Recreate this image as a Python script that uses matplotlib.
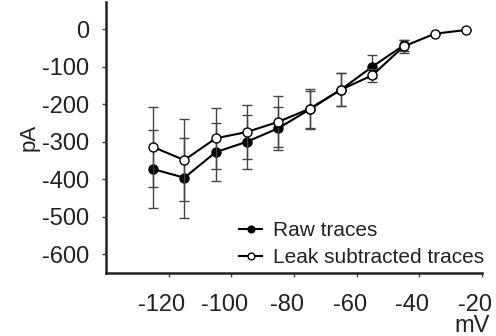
import numpy as np
import matplotlib.pyplot as plt
import matplotlib.transforms as mtransforms

plt.rcParams['font.family'] = ['Liberation Sans', 'DejaVu Sans']
plt.rcParams['axes.unicode_minus'] = False

# membrane potential steps (mV)
mv = [-125, -115, -105, -95, -85, -75, -65, -55, -45, -35, -25]

# raw traces (pA), mean and error
raw_mean = [-373, -396, -328, -300, -264, -214, -161, -100, -43]
raw_err = [103, 107, 77, 72, 57, 50, 45, 30, 15]

# leak subtracted traces (pA), mean and error
leak_mean = [-314, -349, -291, -274, -247, -212, -161, -123, -46, -12, -2]
leak_err = [107, 110, 82, 72, 68, 53, 45, 18, 18, 0, 0]

fig = plt.figure(figsize=(4.96, 3.36), dpi=100)
ax = fig.add_axes([0.2137, 0.1875, 0.758, 0.806])

ax.errorbar(mv[:len(raw_mean)], raw_mean, yerr=raw_err, color='black',
            ecolor='#444444', elinewidth=1, capsize=3.5, capthick=1,
            marker='o', markersize=6.5, markerfacecolor='black',
            markeredgecolor='black', linewidth=1.5, label='Raw traces', zorder=2)
ax.errorbar(mv, leak_mean, yerr=leak_err, color='black',
            ecolor='#444444', elinewidth=1, capsize=3.5, capthick=1,
            marker='o', markersize=6.5, markerfacecolor='white',
            markeredgecolor='black', markeredgewidth=1, linewidth=1.5,
            label='Leak subtracted traces', zorder=3)

ax.set_xlim(-140, -20)
ax.set_ylim(-650, 72)
ax.set_xticks([-120, -100, -80, -60, -40, -20])
ax.set_yticks([0, -100, -200, -300, -400, -500, -600])

for s in ['top', 'right']:
    ax.spines[s].set_visible(False)
for s in ['left', 'bottom']:
    ax.spines[s].set_linewidth(1.8)
    ax.spines[s].set_color('#222222')

ax.tick_params(axis='both', labelsize=17, width=1, length=3,
               color='#444444', labelcolor='#222222')
ax.tick_params(axis='y', pad=9)
ax.tick_params(axis='x', pad=12)

# x tick labels sit a little left of their ticks
shift = mtransforms.ScaledTranslation(-7 / 100, 0, fig.dpi_scale_trans)
for lab in ax.get_xticklabels():
    lab.set_transform(lab.get_transform() + shift)

ax.set_ylabel('pA', fontsize=16, color='#222222', labelpad=2)
fig.text(490 / 496, 4 / 336, 'mV', fontsize=17, color='#222222',
         ha='right', va='baseline')

handles, labels = ax.get_legend_handles_labels()
handles = [h[0] for h in handles]
ax.legend(handles, labels, loc='lower right', bbox_to_anchor=(1.005, 0.022),
          frameon=False, fontsize=15, borderpad=0, borderaxespad=0,
          handlelength=1.1, handletextpad=0.5, labelspacing=0.38,
          markerscale=0.75, labelcolor='#222222')

fig.savefig('out.png', dpi=100)
